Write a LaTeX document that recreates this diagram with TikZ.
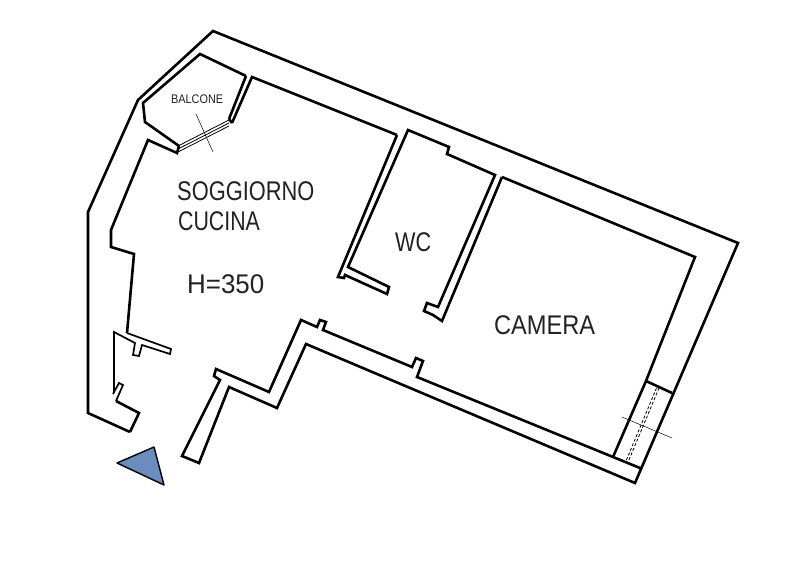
\documentclass[tikz,border=0pt]{standalone}
\usepackage{fontspec}
\newfontfamily\planfont{Liberation Sans}
\definecolor{northblue}{HTML}{6A8DBE}
\definecolor{labelgray}{HTML}{222222}

\begin{document}
\begin{tikzpicture}[
		x=1pt, y=-1pt,
		wall/.style={draw, line width=2.6pt, line join=miter, miter limit=3},
		thinwall/.style={draw, line width=1.7pt, line join=miter, miter limit=3},
		pane/.style={draw, line width=0.8pt},
		cross/.style={draw, line width=0.5pt},
		room/.style={anchor=base west, inner sep=0pt, text=labelgray, transform shape, font=\planfont\fontsize{27}{27}\selectfont},
		tag/.style={anchor=base west, inner sep=0pt, text=labelgray, transform shape, font=\planfont\fontsize{12.5}{12.5}\selectfont},
	]
	\useasboundingbox (0, 0) rectangle (800, 561);

	% outer walls
	\draw[wall] (130, 432) -- (88, 413) -- (88, 212) -- (138, 100) -- (213, 31) -- (738, 243) -- (635, 483) -- (306, 344) -- (277, 408) -- (229, 387) -- (199, 463) -- (182, 456) -- (220, 380) -- (214, 376) -- (216, 369) -- (269, 392) -- (301, 320) -- (317, 327) -- (320, 320) -- (326, 322) -- (323, 330) -- (412, 367) -- (416, 358) -- (423, 361) -- (417, 377) -- (640, 468);

	% balcony
	\draw[wall] (246, 76) -- (200, 54) -- (143, 103) -- (145, 122) -- (179, 146);
	\draw[wall] (246, 76) -- (229, 119);
	\draw[wall] (232, 123) -- (252, 77) -- (397, 135);
	\draw[wall] (179, 146) -- (177, 153) -- (148, 140) -- (111, 230) -- (111, 247) -- (134, 254) -- (127, 333);
	\draw[wall] (229, 119) -- (232, 123);
	\foreach \shift in {0, 3, 6}
		\draw[pane] (178, 146+\shift) -- (229, 120+\shift);
	\draw[cross] (196, 114) -- (213, 152);

	% soggiorno, left side
	\draw[thinwall] (127, 333) -- (171, 349) -- (170, 354) -- (142, 345) -- (139, 356) -- (133, 355) -- (135, 343) -- (114, 332) -- (114, 393);
	\draw[thinwall] (113, 394) -- (119, 383) -- (123, 385) -- (116, 401);
	\draw[wall] (116, 401) -- (139, 413) -- (130, 432);

	% wc walls
	\draw[wall] (397, 135) -- (338, 277) -- (344, 278) -- (345, 275) -- (387, 294) -- (389, 287) -- (348, 267) -- (408, 130) -- (449, 147) -- (447, 154) -- (495, 175) -- (438, 307) -- (427, 303) -- (424, 311) -- (433, 315) -- (442, 321) -- (502, 177);

	% camera and its window
	\draw[wall] (502, 177) -- (695, 257) -- (646, 381);
	\draw[wall] (646, 381) -- (672, 393);
	\draw[wall] (646, 381) -- (613, 457);
	\foreach \shift in {0, 2.5}
		\draw[pane, densely dashed] (656.5+\shift, 388) -- (626+\shift, 461);
	\draw[cross] (622, 417) -- (672, 438);

	% north mark
	\draw[line width=1.4pt, fill=northblue, line join=round] (117, 463) -- (154, 447) -- (164, 485) -- cycle;

	\node[room, xscale=0.81] (soggiorno) at (177, 201) {SOGGIORNO};
	\node[room, xscale=0.79] (cucina) at (178, 231) {CUCINA};
	\node[room, xscale=0.96] (altezza) at (187, 294) {H=350};
	\node[room, xscale=0.8] (wc) at (395, 252) {WC};
	\node[room, xscale=0.875] (camera) at (494, 334) {CAMERA};
	\node[tag, xscale=0.87] (balcone) at (171, 104) {BALCONE};
\end{tikzpicture}
\end{document}
